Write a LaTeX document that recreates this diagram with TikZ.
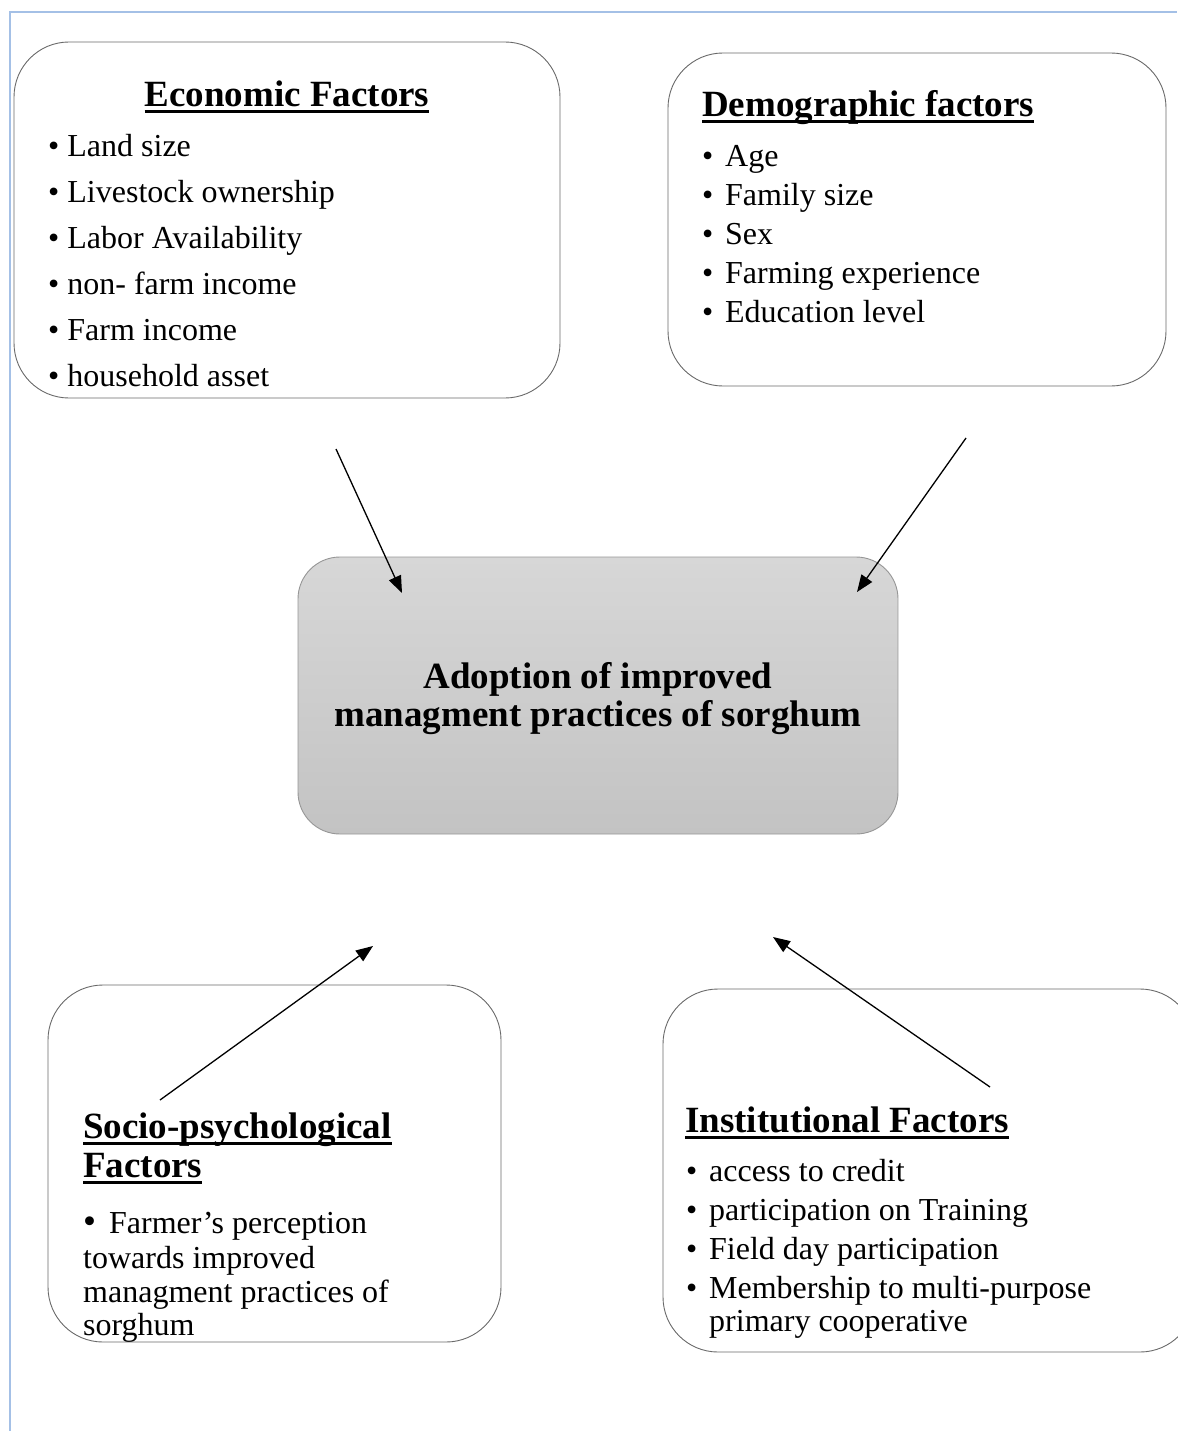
\documentclass[tikz,border=0pt]{standalone}
\usepackage{fontspec}
\setmainfont{Liberation Serif}
\usetikzlibrary{arrows.meta}
\definecolor{framebl}{RGB}{164,192,230}
\definecolor{boxline}{RGB}{105,105,105}
\definecolor{adoptop}{RGB}{215,215,215}
\definecolor{adopbot}{RGB}{195,195,195}
\newcommand{\ultitle}[1]{\sbox0{#1}\rlap{\rule[-6.5pt]{\wd0}{3pt}}\usebox0}
\newcommand{\itm}{\makebox[23pt][l]{•}}

\begin{document}
\begin{tikzpicture}[x=1pt,y=-1pt,
    factorbox/.style={draw=boxline,line width=0.9pt,rounded corners=55pt,inner sep=0pt},
    head/.style={font=\fontsize{37}{39}\selectfont\bfseries,inner sep=0pt},
    items/.style={font=\fontsize{32}{39}\selectfont,align=left,inner sep=0pt},
    arr/.style={-{Triangle[length=17pt,width=13pt]},line width=1.3pt}]
  \useasboundingbox (0,0) rectangle (1177,1431);
  \draw[framebl,line width=1.2pt] (10,1431)--(10,12)--(1177,12);
  % the four factor boxes and the one in the middle
  \node[factorbox,minimum width=546pt,minimum height=356pt] (econ) at (287,220) {};
  \node[factorbox,minimum width=498pt,minimum height=333pt] (demo) at (917,219.5) {};
  \node[factorbox,minimum width=453pt,minimum height=357pt] (socio) at (274.5,1163.5) {};
  \node[factorbox,minimum width=532pt,minimum height=363pt] (inst) at (929,1170.5) {};
  \node[draw=boxline!70,line width=0.9pt,rounded corners=42pt,top color=adoptop,bottom color=adopbot,
    minimum width=600pt,minimum height=277pt] (adopt) at (598,695.5) {};
  % texts
  \node[head,anchor=base] (econHead) at (287,107) {\ultitle{Economic Factors}};
  \node[items,anchor=north west,font=\fontsize{32}{46}\selectfont] (econList) at (48,134)
    {• Land size\\• Livestock ownership\\• Labor Availability\\• non- farm income\\• Farm income\\• household asset};
  \node[head,anchor=base west] (demoHead) at (702,117) {\ultitle{Demographic factors}};
  \node[items,anchor=north west] (demoList) at (702,145)
    {\itm Age\\\itm Family size\\\itm Sex\\\itm Farming experience\\\itm Education level};
  \node[head,anchor=center,align=center,font=\fontsize{37}{38}\selectfont\bfseries] (adoptText) at (598,699)
    {Adoption of improved\\managment practices of sorghum};
  \node[head,anchor=north west,align=left] (socioHead) at (83,1113)
    {\ultitle{Socio-psychological}\\\ultitle{Factors}};
  \node[items,anchor=north west,font=\fontsize{32}{33.5}\selectfont] (socioList) at (83,1212)
    {{\fontsize{37}{36}\selectfont •}\hspace{13pt}Farmer’s perception\\[2pt]towards improved\\managment practices of\\sorghum};
  \node[head,anchor=base west] (instHead) at (685,1132) {\ultitle{Institutional Factors}};
  \node[items,anchor=north west] (instList) at (686,1159)
    {\itm access to credit\\\itm participation on Training\\\itm Field day participation\\\itm Membership to multi-purpose\\[-6pt]\hspace{23pt}primary cooperative};
  % arrows
  \coordinate (econTail) at (336,449);
  \coordinate (econTip) at (402,593);
  \coordinate (demoTail) at (966,438);
  \coordinate (demoTip) at (857,592);
  \coordinate (socioTail) at (160,1100);
  \coordinate (socioTip) at (373,946);
  \coordinate (instTail) at (990,1087);
  \coordinate (instTip) at (773,937);
  \draw[arr] (econTail) -- (econTip);
  \draw[arr] (demoTail) -- (demoTip);
  \draw[arr] (socioTail) -- (socioTip);
  \draw[arr] (instTail) -- (instTip);
\end{tikzpicture}
\end{document}
